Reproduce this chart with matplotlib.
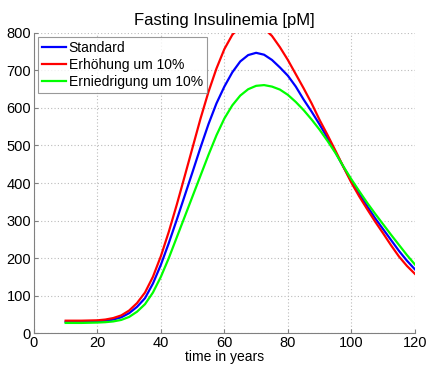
import matplotlib
matplotlib.use("Agg")
import matplotlib.pyplot as plt

plt.rcParams["font.family"] = ["Liberation Sans", "DejaVu Sans"]

years = [10, 12.5, 15, 17.5, 20, 22.5, 25, 27.5, 30, 32.5, 35, 37.5, 40, 42.5, 45, 47.5,
         50, 52.5, 55, 57.5, 60, 62.5, 65, 67.5, 70, 72.5, 75, 77.5, 80, 82.5, 85, 87.5,
         90, 92.5, 95, 97.5, 100, 102.5, 105, 107.5, 110, 112.5, 115, 117.5, 120]

standard = [30, 30, 30, 30.5, 31, 32.5, 36, 42, 53, 70, 93, 132, 182, 240, 302, 366,
            430, 495, 557, 612, 657, 695, 724, 741, 747, 742, 728, 708, 686, 657, 622, 590,
            556, 520, 482, 443, 405, 370, 338, 306, 277, 248, 219, 193, 170]
increase = [33, 33, 33, 33.5, 34, 36, 40, 47, 60, 80, 108, 150, 205, 270, 342, 418,
            495, 572, 643, 705, 757, 795, 818, 828, 826, 812, 792, 762, 728, 690, 652, 612,
            568, 528, 486, 443, 401, 364, 330, 297, 266, 234, 204, 179, 158]
decrease = [27, 27, 27, 27.5, 28, 29, 31, 35, 43, 57, 77, 108, 150, 200, 255, 310,
            365, 420, 475, 527, 572, 607, 633, 650, 659, 661, 657, 649, 635, 616, 594, 569,
            542, 512, 480, 444, 410, 378, 347, 318, 290, 262, 235, 208, 183]

labels = ["Standard", "Erhöhung um 10%", "Erniedrigung um 10%"]
colors = ["#0000ff", "#ff0000", "#00ff00"]


def main() -> None:
    fig = plt.figure(figsize=(4.29, 3.66), dpi=100)
    ax = fig.add_axes([0.079, 0.090, 0.888, 0.820])

    for series, label, color in zip([standard, increase, decrease], labels, colors):
        ax.plot(years, series, color=color, linewidth=1.6, label=label)

    ax.set_xlim(0, 120)
    ax.set_ylim(0, 800)
    ax.set_xticks(range(0, 121, 20))
    ax.set_yticks(range(0, 801, 100))
    ax.grid(True, linestyle=(0, (1, 2)), color="#bbbbbb", linewidth=0.8)
    for side in ["top", "right"]:
        ax.spines[side].set_visible(False)
    for side in ["left", "bottom"]:
        ax.spines[side].set_color("#808080")
    ax.tick_params(direction="in", length=3, color="#808080", labelsize=10.5, pad=2)

    ax.set_title("Fasting Insulinemia [pM]", fontsize=12, pad=6)
    ax.set_xlabel("time in years", fontsize=10, labelpad=0)

    leg = ax.legend(loc="upper left", fontsize=10, frameon=True, fancybox=False,
                    handlelength=1.7, handletextpad=0.2, borderpad=0.3, labelspacing=0.2,
                    borderaxespad=0.3)
    leg.get_frame().set_edgecolor("#808080")
    leg.get_frame().set_linewidth(0.8)

    fig.savefig("out.png")
    plt.close(fig)


if __name__ == "__main__":
    main()
